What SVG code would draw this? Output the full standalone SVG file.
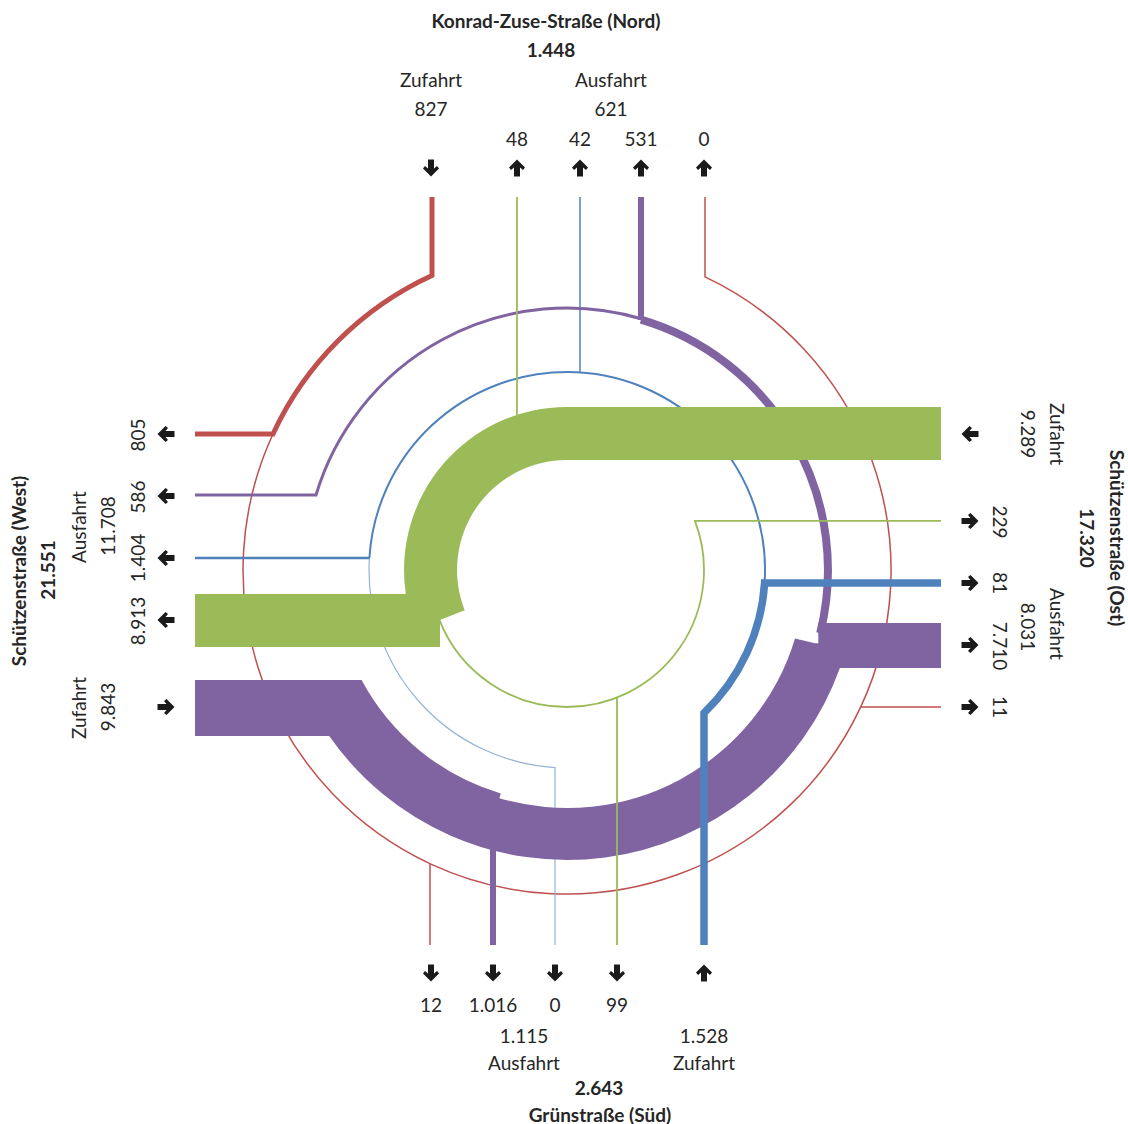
<svg xmlns="http://www.w3.org/2000/svg" width="1128" height="1124" viewBox="0 0 1128 1124">
<style>
text{font-family:Lato,"Liberation Sans",sans-serif;font-size:19px;fill:#262626;text-anchor:middle}
.b{font-weight:bold}
.ln{fill:none;stroke-linejoin:miter;stroke-linecap:butt}
.r{stroke:#C0504D}.p{stroke:#8064A2}.bl{stroke:#4F81BD}.g{stroke:#9BBB59}.lb{stroke:#95B3D7}
.arr{fill:#1a1a1a}
</style>
<defs>
<path id="au" d="M0,-8.5 L8,-0.5 L6,2 L3,-0.5 L3,8.5 L-3,8.5 L-3,-0.5 L-6,2 L-8,-0.5 Z"/>
</defs>
<rect width="1128" height="1124" fill="#fff"/>
<g id="connectors">
<path class="ln r" stroke-width="1.5" d="M273,434 A324,324 0 1 0 705,276.9 V197"/>
<path class="ln r" stroke-width="1.5" d="M430,864 V945 M860.6,707 H941"/>
<path class="ln r" stroke-width="5" d="M432,197 V275.5 A324,324 0 0 0 273,434 H195"/>
<path class="ln lb" stroke-width="1.2" d="M369.4,558 A198,198 0 0 0 555,767.6 V945"/>
<path class="ln bl" stroke-width="2" d="M764.6,583 A198,198 0 0 0 567,372 A198,198 0 0 0 369.4,558"/>
<path class="ln bl" stroke-width="2.6" d="M369.4,558 H195"/>
<path class="ln bl" stroke-width="1.5" d="M580,197 V372.4"/>
<path class="ln p" stroke-width="3" d="M641,318.7 A262,262 0 0 0 316,495 H195"/>
<path class="ln p" stroke-width="6" d="M641,197 V320 M493,846 V945"/>
<path class="ln p" stroke-width="8" d="M820.2,633.1 A261,261 0 0 0 641,319.7"/>
<path fill="#8064A2" d="M195,680 H361.6 A233,233 0 0 0 500.8,793.4 L499.4,798.2 A238,238 0 0 0 795,638.4 L815,643.3 H818.3 V623 H941 V668 H839.9 A290,290 0 0 1 329.2,736 H195 Z"/>
<path fill="#9BBB59" d="M941,407 H567 A163,163 0 0 0 405.8,594 H195 V647 H440 V620 L464.7,610.3 A110,110 0 0 1 567,460 H941 Z"/>
<path class="ln g" stroke-width="1.8" d="M517,197 V415"/>
<path class="ln g" stroke-width="1.8" d="M439.5,620.2 A137,137 0 0 0 567,707 A137,137 0 0 0 694.9,520.9 H941 M617,697.5 V945"/>
<path class="ln bl" stroke-width="7.5" d="M704,945 V713 A198,198 0 0 0 764.6,583 H941"/>
</g>
<g id="north">
<text x="546" y="28" class="b">Konrad-Zuse-Straße (Nord)</text>
<text x="551" y="57" class="b">1.448</text>
<text x="431" y="87">Zufahrt</text>
<text x="431" y="116">827</text>
<text x="611" y="87">Ausfahrt</text>
<text x="611" y="116">621</text>
<text x="517" y="146">48</text>
<text x="580" y="146">42</text>
<text x="641" y="146">531</text>
<text x="704" y="146">0</text>
<use href="#au" class="arr" transform="translate(431,168) rotate(180)"/>
<use href="#au" class="arr" transform="translate(517,168)"/>
<use href="#au" class="arr" transform="translate(580,168)"/>
<use href="#au" class="arr" transform="translate(641,168)"/>
<use href="#au" class="arr" transform="translate(704,168)"/>
</g>
<g id="south">
<use href="#au" class="arr" transform="translate(431,973) rotate(180)"/>
<use href="#au" class="arr" transform="translate(493,973) rotate(180)"/>
<use href="#au" class="arr" transform="translate(555,973) rotate(180)"/>
<use href="#au" class="arr" transform="translate(617,973) rotate(180)"/>
<use href="#au" class="arr" transform="translate(704,973)"/>
<text x="431" y="1012">12</text>
<text x="493" y="1012">1.016</text>
<text x="555" y="1012">0</text>
<text x="617" y="1012">99</text>
<text x="524" y="1043">1.115</text>
<text x="704" y="1043">1.528</text>
<text x="524" y="1070">Ausfahrt</text>
<text x="704" y="1070">Zufahrt</text>
<text x="599" y="1095" class="b">2.643</text>
<text x="600" y="1122" class="b">Grünstraße (Süd)</text>
</g>
<g id="west">
<use href="#au" class="arr" transform="translate(166,434) rotate(-90)"/>
<use href="#au" class="arr" transform="translate(166,496) rotate(-90)"/>
<use href="#au" class="arr" transform="translate(166,558) rotate(-90)"/>
<use href="#au" class="arr" transform="translate(166,620) rotate(-90)"/>
<use href="#au" class="arr" transform="translate(166,707) rotate(90)"/>
<text transform="translate(145,435) rotate(-90)">805</text>
<text transform="translate(145,497) rotate(-90)">586</text>
<text transform="translate(145,558) rotate(-90)">1.404</text>
<text transform="translate(145,621) rotate(-90)">8.913</text>
<text transform="translate(86,527) rotate(-90)">Ausfahrt</text>
<text transform="translate(115,526) rotate(-90)">11.708</text>
<text transform="translate(86,708) rotate(-90)">Zufahrt</text>
<text transform="translate(115,707) rotate(-90)">9.843</text>
<text transform="translate(26,571) rotate(-90)" class="b">Schützenstraße (West)</text>
<text transform="translate(55,570) rotate(-90)" class="b">21.551</text>
</g>
<g id="east">
<use href="#au" class="arr" transform="translate(970,434) rotate(-90)"/>
<use href="#au" class="arr" transform="translate(970,521) rotate(90)"/>
<use href="#au" class="arr" transform="translate(970,583) rotate(90)"/>
<use href="#au" class="arr" transform="translate(970,645) rotate(90)"/>
<use href="#au" class="arr" transform="translate(970,707) rotate(90)"/>
<text transform="translate(993,522) rotate(90)">229</text>
<text transform="translate(993,583) rotate(90)">81</text>
<text transform="translate(993,646) rotate(90)">7.710</text>
<text transform="translate(993,707) rotate(90)">11</text>
<text transform="translate(1050,434) rotate(90)">Zufahrt</text>
<text transform="translate(1021,434) rotate(90)">9.289</text>
<text transform="translate(1050,624) rotate(90)">Ausfahrt</text>
<text transform="translate(1021,627) rotate(90)">8.031</text>
<text transform="translate(1080,538) rotate(90)" class="b">17.320</text>
<text transform="translate(1110,538) rotate(90)" class="b">Schützenstraße (Ost)</text>
</g>
</svg>
